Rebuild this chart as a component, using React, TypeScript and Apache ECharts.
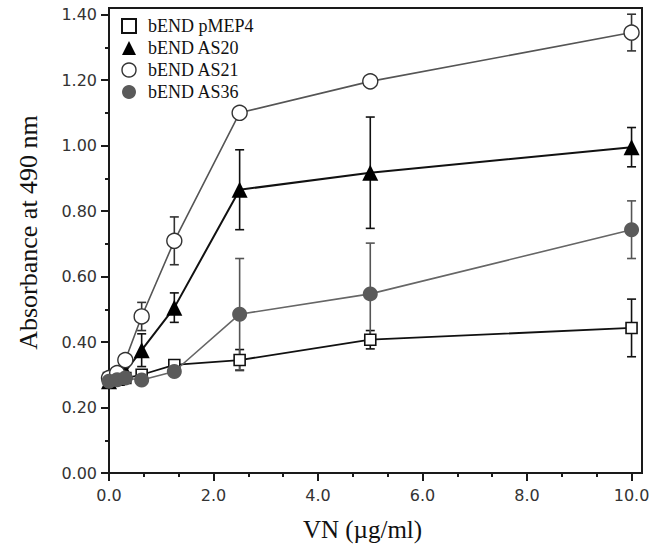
import React, { useEffect, useRef } from "react";
import * as echarts from "echarts";

// VN concentrations (µg/ml)
const X_VALUES = [0, 0.156, 0.3125, 0.625, 1.25, 2.5, 5, 10];

const PMEP4 = [0.29, 0.29, 0.29, 0.3, 0.33, 0.345, 0.407, 0.443];
const PMEP4_ERR = [0, 0, 0, 0, 0.01, 0.032, 0.028, 0.088];

const AS20 = [0.28, 0.29, 0.31, 0.375, 0.505, 0.865, 0.917, 0.995];
const AS20_ERR = [0, 0, 0, 0.05, 0.045, 0.122, 0.17, 0.06];

const AS21 = [0.29, 0.305, 0.345, 0.478, 0.709, 1.1, 1.196, 1.345];
const AS21_ERR = [0, 0, 0, 0.043, 0.073, 0, 0, 0.056];

const AS36 = [0.28, 0.285, 0.29, 0.284, 0.31, 0.485, 0.547, 0.743];
const AS36_ERR = [0, 0, 0, 0, 0, 0.17, 0.155, 0.088];

const X_TICKS = [0, 2, 4, 6, 8, 10];
const X_MINOR_TICKS = [0.667, 1.333, 2.667, 3.333, 4.667, 5.333, 6.667, 7.333, 8.667, 9.333];
const Y_TICKS = [0, 0.2, 0.4, 0.6, 0.8, 1.0, 1.2, 1.4];
const Y_MINOR_TICKS = [0.1, 0.3, 0.5, 0.7, 0.9, 1.1, 1.3];

const NAMES = ["bEND pMEP4", "bEND AS20", "bEND AS21", "bEND AS36"];

const SERIF = "'Liberation Serif', 'Times New Roman', serif";
const SANS = "'DejaVu Sans', sans-serif";

function pairs(ys: number[]) {
  return X_VALUES.map((x, i) => [x, ys[i]]);
}

function errData(ys: number[], errs: number[]) {
  const out: number[][] = [];
  X_VALUES.forEach((x, i) => {
    if (errs[i] > 0) out.push([x, ys[i] - errs[i], ys[i] + errs[i]]);
  });
  return out;
}

function errSeries(name: string, ys: number[], errs: number[], color: string) {
  return {
    type: "custom",
    name,
    z: 1,
    silent: true,
    encode: { x: 0, y: [1, 2] },
    data: errData(ys, errs),
    renderItem: (_params: any, api: any) => {
      const x = api.value(0);
      const top = api.coord([x, api.value(2)]);
      const bot = api.coord([x, api.value(1)]);
      const w = 4.5;
      const style = { stroke: color, lineWidth: 1.6 };
      return {
        type: "group",
        children: [
          { type: "line", shape: { x1: top[0], y1: top[1], x2: bot[0], y2: bot[1] }, style },
          { type: "line", shape: { x1: top[0] - w, y1: top[1], x2: top[0] + w, y2: top[1] }, style },
          { type: "line", shape: { x1: bot[0] - w, y1: bot[1], x2: bot[0] + w, y2: bot[1] }, style },
        ],
      };
    },
  };
}

export default function App() {
  const ref = useRef<HTMLDivElement>(null);

  useEffect(() => {
    document.body.style.margin = "0";
    if (!ref.current) return;
    const chart = echarts.init(ref.current, undefined, { renderer: "svg" });

    const axisCommon = {
      min: 0,
      splitLine: { show: false },
    };

    const legendText = { fontFamily: SERIF, fontSize: 18, color: "#111", lineHeight: 22, padding: [0, 0, 0, 7] };

    const option: any = {
      animation: false,
      backgroundColor: "#fff",
      grid: {
        left: 109,
        right: 15,
        top: 8,
        bottom: 86,
        show: true,
        borderColor: "#1a1a1a",
        borderWidth: 2,
        backgroundColor: "transparent",
      },
      legend: {
        orient: "vertical",
        left: 116,
        top: 10,
        itemWidth: 14,
        itemHeight: 14,
        itemGap: 0,
        textStyle: legendText,
        data: [
          { name: NAMES[0], icon: "rect", itemStyle: { color: "#fff", borderColor: "#111", borderWidth: 2 } },
          { name: NAMES[1], icon: "triangle", itemStyle: { color: "#000" } },
          { name: NAMES[2], icon: "circle", itemStyle: { color: "#fff", borderColor: "#333", borderWidth: 1.4 } },
          { name: NAMES[3], icon: "circle", itemStyle: { color: "#5a5a5a" } },
        ],
      },
      xAxis: [
        {
          ...axisCommon,
          type: "value",
          max: 10.2,
          position: "bottom",
          name: "VN (µg/ml)",
          nameLocation: "middle",
          nameGap: 44,
          nameTextStyle: { fontFamily: SERIF, fontSize: 25, color: "#111", padding: [0, 26, 0, 0] },
          axisLine: { show: true, onZero: false, lineStyle: { color: "#1a1a1a", width: 2 } },
          axisTick: { show: true, customValues: X_TICKS, length: 8, lineStyle: { color: "#1a1a1a", width: 2 } },
          axisLabel: {
            customValues: X_TICKS,
            margin: 14,
            fontFamily: SANS,
            fontSize: 16,
            color: "#333",
            formatter: (v: number) => v.toFixed(1),
          },
        },
        {
          ...axisCommon,
          type: "value",
          max: 10.2,
          position: "bottom",
          axisLine: { show: false },
          axisLabel: { show: false },
          axisTick: { show: true, customValues: X_MINOR_TICKS, length: 4, lineStyle: { color: "#1a1a1a", width: 2 } },
        },
      ],
      yAxis: [
        {
          ...axisCommon,
          type: "value",
          max: 1.42,
          position: "left",
          name: "Absorbance at 490 nm",
          nameLocation: "middle",
          nameGap: 68,
          nameTextStyle: { fontFamily: SERIF, fontSize: 26, color: "#111", padding: [0, 0, 0, 16] },
          axisLine: { show: true, onZero: false, lineStyle: { color: "#1a1a1a", width: 2 } },
          axisTick: { show: true, customValues: Y_TICKS, length: 8, lineStyle: { color: "#1a1a1a", width: 2 } },
          axisLabel: {
            customValues: Y_TICKS,
            margin: 12,
            fontFamily: SANS,
            fontSize: 16,
            color: "#333",
            formatter: (v: number) => v.toFixed(2),
          },
        },
        {
          ...axisCommon,
          type: "value",
          max: 1.42,
          position: "left",
          axisLine: { show: false },
          axisLabel: { show: false },
          axisTick: { show: true, customValues: Y_MINOR_TICKS, length: 4, lineStyle: { color: "#1a1a1a", width: 2 } },
        },
      ],
      series: [
        errSeries("err pMEP4", PMEP4, PMEP4_ERR, "#111"),
        errSeries("err AS20", AS20, AS20_ERR, "#111"),
        errSeries("err AS21", AS21, AS21_ERR, "#333"),
        errSeries("err AS36", AS36, AS36_ERR, "#555"),
        {
          type: "line",
          name: NAMES[0],
          z: 2,
          data: pairs(PMEP4),
          symbol: "rect",
          symbolSize: 11,
          showAllSymbol: true,
          lineStyle: { color: "#111", width: 1.8 },
          itemStyle: { color: "#fff", borderColor: "#111", borderWidth: 1.6 },
        },
        {
          type: "line",
          name: NAMES[1],
          z: 3,
          data: pairs(AS20),
          symbol: "triangle",
          symbolSize: 16,
          showAllSymbol: true,
          lineStyle: { color: "#111", width: 2 },
          itemStyle: { color: "#000" },
        },
        {
          type: "line",
          name: NAMES[2],
          z: 4,
          data: pairs(AS21),
          symbol: "circle",
          symbolSize: 15,
          showAllSymbol: true,
          lineStyle: { color: "#555", width: 1.6 },
          itemStyle: { color: "#fff", borderColor: "#333", borderWidth: 1.4 },
        },
        {
          type: "line",
          name: NAMES[3],
          z: 5,
          data: pairs(AS36),
          symbol: "circle",
          symbolSize: 15,
          showAllSymbol: true,
          lineStyle: { color: "#666", width: 1.6 },
          itemStyle: { color: "#5a5a5a" },
        },
      ],
    };

    chart.setOption(option);
    return () => chart.dispose();
  }, []);

  return <div ref={ref} style={{ width: 657, height: 559 }} />;
}
